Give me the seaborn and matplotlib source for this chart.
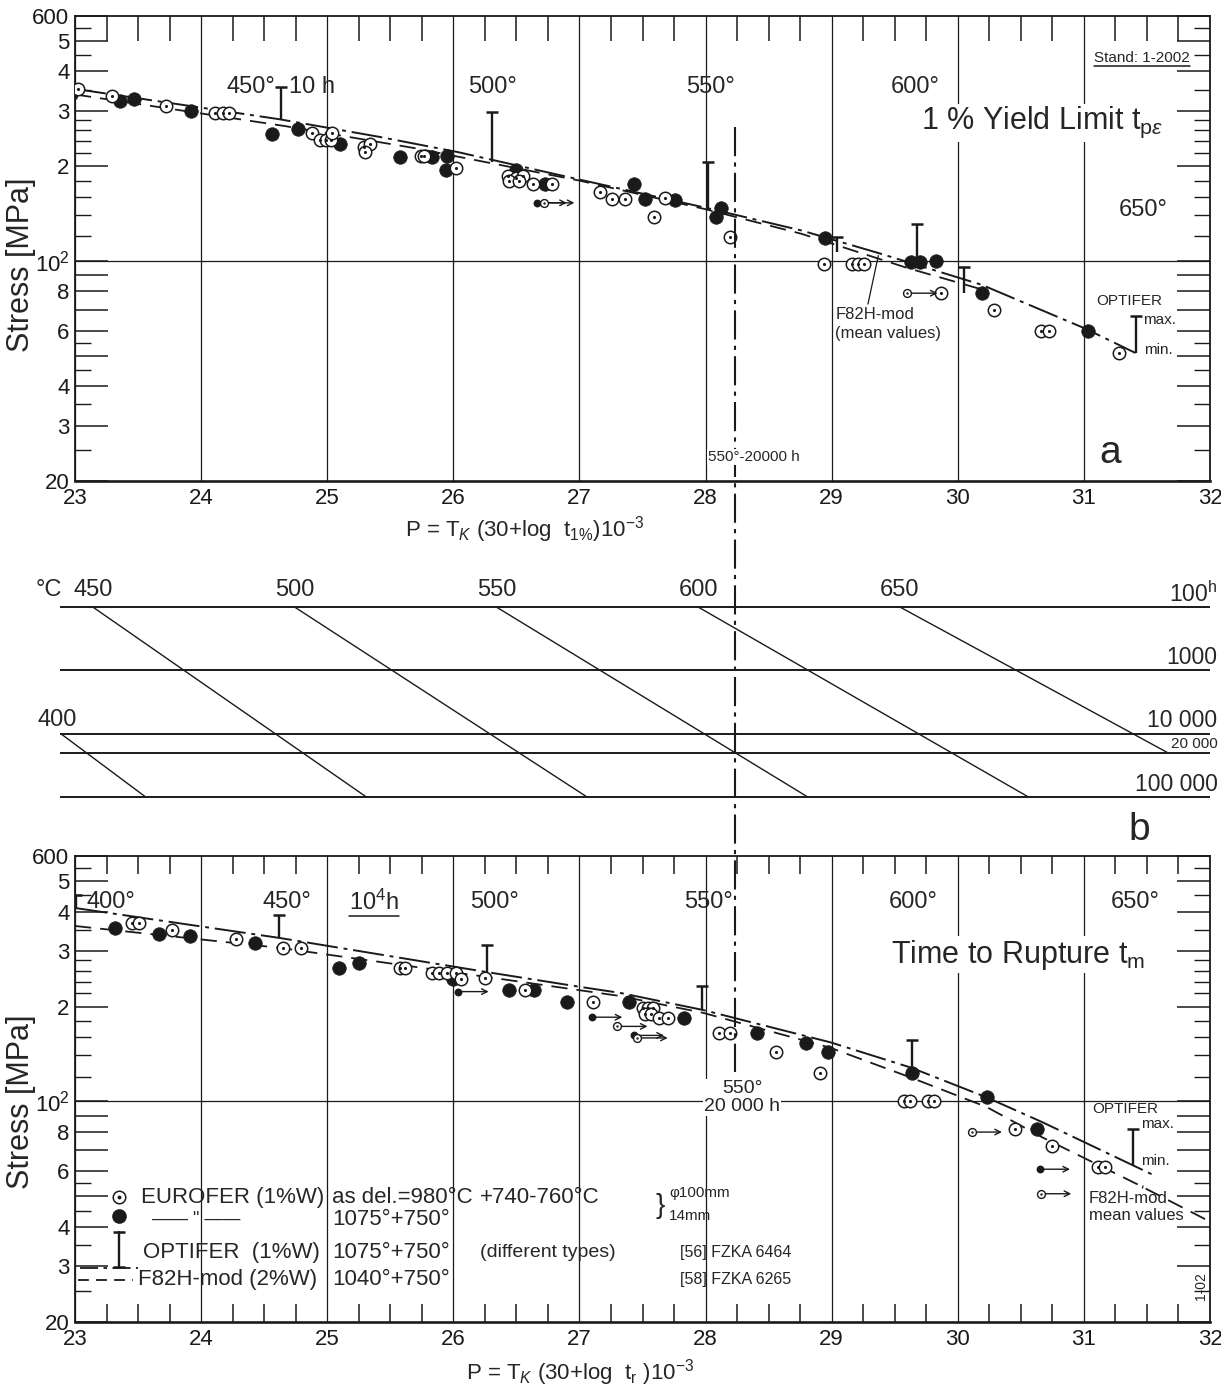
import numpy as np
import pandas as pd
import matplotlib
matplotlib.use("Agg")
import matplotlib.pyplot as plt
from matplotlib.lines import Line2D
from matplotlib.ticker import FixedLocator, NullFormatter, FixedFormatter
import seaborn as sns

# ---------------- data: panel a, 1 % yield limit ----------------
yl_open_P = [22.96, 23.02, 23.29, 23.72, 24.11, 24.17, 24.22, 24.88, 24.94, 24.99, 25.03, 25.04,
             25.29, 25.34, 25.30, 25.74, 25.77, 26.02, 26.43, 26.50, 26.55, 26.44, 26.52, 26.63,
             26.78, 27.16, 27.26, 27.36, 27.59, 27.68, 28.19, 28.94, 29.16, 29.21, 29.26, 29.87,
             30.29, 30.66, 30.72, 31.28]
yl_open_S = [357, 351, 334, 311, 295, 295, 295, 255, 242, 242, 242, 255,
             230, 235, 222, 216, 216, 197, 186, 184, 186, 180, 179, 175,
             176, 166, 157, 157, 138, 158, 119, 98, 98, 98, 98, 79,
             70, 60, 60, 51]
yl_fill_P = [22.97, 23.36, 23.47, 23.92, 24.56, 24.77, 25.10, 25.58, 25.83, 25.95, 25.94, 26.50,
             26.73, 27.43, 27.52, 27.76, 28.12, 28.08, 28.95, 29.63, 29.70, 29.83, 30.19, 31.03]
yl_fill_S = [339, 322, 326, 300, 254, 262, 235, 214, 214, 216, 195, 195,
             175, 175, 157, 156, 147, 138, 118, 99, 99, 100, 79, 60]
yl_run_P = [26.66, 26.72, 29.60]
yl_run_S = [153, 153, 79]
yl_run_filled = [True, False, False]
yl_opt_P = [24.63, 26.31, 28.02, 29.04, 29.68, 30.05, 31.41]
yl_opt_max = [357, 297, 206, 119, 131, 96, 67]
yl_opt_min = [282, 206, 145, 107, 99, 79, 51]
yl_optline_P = [23.0, 24.62, 25.41, 26.03, 27.01, 28.02, 28.76, 29.37, 30.19, 31.01, 31.41]
yl_optline_S = [352, 282, 248, 222, 181, 147, 125, 106, 84, 61, 51]
yl_f82_P = [23.0, 24.67, 25.70, 27.0, 28.0, 28.76, 29.6, 30.2]
yl_f82_S = [338, 268, 228, 180, 146, 122, 95, 81]

# ---------------- data: panel c, time to rupture ----------------
rp_open_P = [23.45, 23.51, 23.77, 24.28, 24.65, 24.79, 25.58, 25.62, 25.83, 25.89, 25.95, 26.02,
             26.06, 26.25, 26.57, 27.11, 27.50, 27.54, 27.58, 27.52, 27.57, 27.63, 27.70, 28.11,
             28.19, 28.56, 28.91, 29.57, 29.62, 29.76, 29.81, 30.45, 30.75, 31.11, 31.17]
rp_open_S = [368, 368, 350, 327, 307, 307, 264, 264, 255, 255, 255, 255,
             244, 247, 226, 206, 198, 198, 198, 190, 190, 184, 184, 165,
             165, 143, 123, 100, 100, 100, 100, 82, 72, 62, 62]
rp_fill_P = [23.32, 23.67, 23.91, 24.43, 25.09, 25.25, 26.00, 26.44, 26.64, 26.90, 27.39, 27.83,
             28.41, 28.80, 28.97, 29.64, 30.23, 30.63]
rp_fill_S = [356, 339, 335, 319, 265, 274, 244, 226, 225, 206, 206, 184,
             165, 153, 143, 123, 103, 82]
rp_run_P = [26.04, 27.10, 27.30, 27.43, 27.46, 30.11, 30.65, 30.66]
rp_run_S = [223, 185, 173, 162, 159, 80, 61, 51]
rp_run_filled = [True, True, False, True, False, False, True, False]
rp_opt_P = [23.01, 24.62, 26.27, 27.97, 29.64, 31.39]
rp_opt_max = [451, 390, 313, 232, 157, 82]
rp_opt_min = [409, 330, 258, 195, 123, 63]
rp_optline_P = [23.01, 24.62, 26.27, 27.0, 27.32, 27.98, 28.99, 29.63, 30.23, 30.67, 31.38, 31.57]
rp_optline_S = [410, 330, 257, 231, 221, 195, 154, 128, 103, 86, 63, 58]
rp_f82_P = [23.0, 24.62, 26.27, 27.32, 27.98, 28.99, 29.63, 30.23, 30.67, 31.41, 31.98]
rp_f82_S = [360, 307, 248, 216, 191, 148, 119, 96, 77, 55, 42]

# ---------------- data: panel b, Larson-Miller nomogram ----------------
nomo_T = [400, 450, 500, 550, 600, 650]
nomo_t_start = [1e4, 100, 100, 100, 100, 100]
nomo_t_end = [1e5, 1e5, 1e5, 1e5, 1e5, 2e4]
nomo_times = [100, 1000, 10000, 20000, 100000]
nomo_time_labels = ['100$^{\\mathrm{h}}$', '1000', '10 000', '20 000', '100 000']
ref_T, ref_t = 550, 20000

# ---------------- axes ticks ----------------
stress_major = [20, 30, 40, 50, 60, 70, 80, 90, 100, 200, 300, 400, 500, 600]
stress_major_labels = ['20', '3', '4', '', '6', '', '8', '', '10$^2$', '2', '3', '4', '5', '600']
stress_minor = [25, 35, 45, 55, 120, 140, 160, 180, 220, 240, 260, 280, 350, 450, 550]
P_ticks = list(range(23, 33))
P_minor = [p for p in np.arange(23.25, 32.0, 0.25) if abs(p - round(p)) > 1e-6]


def lmp(T_c, t):
    return (T_c + 273.15) * (30 + np.log10(t)) / 1000.0


sns.set_theme(style='white')
NARROW = ['Liberation Sans Narrow', 'Liberation Sans', 'DejaVu Sans']
ARIAL = ['Liberation Sans', 'DejaVu Sans']
plt.rcParams['font.family'] = NARROW
plt.rcParams['mathtext.fontset'] = 'custom'
plt.rcParams['mathtext.rm'] = 'Liberation Sans'
plt.rcParams['mathtext.it'] = 'Liberation Sans:italic'
plt.rcParams['mathtext.bf'] = 'Liberation Sans:bold'

fig = plt.figure(figsize=(12.21, 13.89), dpi=100)
fig.patch.set_facecolor('white')
L, W = 75 / 1221, 1135 / 1221
ax_a = fig.add_axes([L, 1 - 481 / 1389, W, 465 / 1389])
ax_b = fig.add_axes([L, 1 - 845 / 1389, W, 270 / 1389])
ax_c = fig.add_axes([L, 1 - 1322 / 1389, W, 466 / 1389])


def setup_stress_axes(ax, top_only):
    ax.set_yscale('log')
    ax.set_xlim(23, 32)
    ax.set_ylim(20, 600)
    ax.yaxis.set_major_locator(FixedLocator(stress_major))
    ax.yaxis.set_major_formatter(FixedFormatter(stress_major_labels))
    ax.yaxis.set_minor_locator(FixedLocator(stress_minor))
    ax.yaxis.set_minor_formatter(NullFormatter())
    ax.xaxis.set_major_locator(FixedLocator(P_ticks))
    ax.xaxis.set_minor_locator(FixedLocator(P_minor))
    ax.tick_params(axis='y', which='major', direction='in', length=24, width=1.1,
                   left=True, right=True, labelsize=16, pad=4, colors='k')
    ax.tick_params(axis='y', which='minor', direction='in', length=11.5, width=1.0,
                   left=True, right=True, colors='k')
    ax.tick_params(axis='x', which='major', length=0, labelsize=16, pad=5, colors='k')
    if top_only:
        ax.tick_params(axis='x', which='minor', direction='in', length=18, width=1.1,
                       top=True, bottom=False, colors='k')
    else:
        ax.tick_params(axis='x', which='minor', direction='in', length=13, width=1.1,
                       top=True, bottom=True, colors='k')
    ax.grid(True, axis='x', which='major', color='k', linewidth=0.9)
    ax.axhline(100, color='k', lw=0.9, zorder=1)
    for sp in ax.spines.values():
        sp.set_color('k')
        sp.set_linewidth(1.3)
    ax.spines['bottom'].set_linewidth(1.9)
    ax.set_facecolor('white')


def draw_panel(ax, fP, fS, oP, oS, rP, rS, rF, bP, bmax, bmin, oLP, oLS, fLP, fLS):
    sns.lineplot(x=oLP, y=oLS, ax=ax, color='k', lw=1.4, sort=False, estimator=None, zorder=3)
    ax.lines[-1].set_linestyle((0, (16, 3, 2, 3)))
    sns.lineplot(x=fLP, y=fLS, ax=ax, color='k', lw=1.3, sort=False, estimator=None, zorder=3)
    ax.lines[-1].set_linestyle((0, (9, 5)))
    ax.vlines(bP, bmin, bmax, color='k', lw=1.7, zorder=4)
    sns.scatterplot(x=bP, y=bmax, ax=ax, marker='_', s=70, color='k', linewidth=1.8,
                    zorder=4, legend=False)
    sns.scatterplot(x=fP, y=fS, ax=ax, s=95, color='k', edgecolor='k', linewidth=0.5,
                    zorder=5, legend=False)
    sns.scatterplot(x=oP, y=oS, ax=ax, s=80, color='white', edgecolor='k', linewidth=1.1,
                    zorder=5, legend=False)
    sns.scatterplot(x=oP, y=oS, ax=ax, s=5, color='k', linewidth=0, zorder=6, legend=False)
    for P, S in zip(rP, rS):
        ax.annotate('', xy=(P + 0.24, S), xytext=(P, S),
                    arrowprops=dict(arrowstyle='->', color='k', lw=1.0, shrinkA=0, shrinkB=0,
                                    mutation_scale=10), zorder=5)
    rfP = [p for p, f in zip(rP, rF) if f]
    rfS = [s for s, f in zip(rS, rF) if f]
    roP = [p for p, f in zip(rP, rF) if not f]
    roS = [s for s, f in zip(rS, rF) if not f]
    sns.scatterplot(x=rfP, y=rfS, ax=ax, s=32, color='k', linewidth=0, zorder=6, legend=False)
    sns.scatterplot(x=roP, y=roS, ax=ax, s=32, color='white', edgecolor='k', linewidth=1.0,
                    zorder=6, legend=False)
    sns.scatterplot(x=roP, y=roS, ax=ax, s=3, color='k', linewidth=0, zorder=7, legend=False)


# ---------------- panel a ----------------
setup_stress_axes(ax_a, top_only=True)
draw_panel(ax_a, yl_fill_P, yl_fill_S, yl_open_P, yl_open_S, yl_run_P, yl_run_S, yl_run_filled,
           yl_opt_P, yl_opt_max, yl_opt_min, yl_optline_P, yl_optline_S, yl_f82_P, yl_f82_S)
ax_a.set_xlim(23, 32)
ax_a.set_ylim(20, 600)
ax_a.set_xlabel('P = T$_{K}$ (30+log  t$_{1\\%}$)10$^{-3}$', fontsize=16)
ax_a.xaxis.set_label_coords(0.396, -0.072)
ax_a.set_ylabel('Stress [MPa]', fontsize=22, family=ARIAL)
ax_a.yaxis.set_label_coords(-0.034, 0.465)

ax_a.text(24.59, 357, '450°', ha='right', va='center', fontsize=17)
ax_a.text(24.70, 357, '10 h', ha='left', va='center', fontsize=17)
for P, lab in [(26.31, '500°'), (28.04, '550°'), (29.66, '600°')]:
    ax_a.text(P, 357, lab, ha='center', va='center', fontsize=17)
ax_a.text(31.47, 145, '650°', ha='center', va='center', fontsize=17)
ax_a.text(29.71, 262, '1 % Yield Limit t$_{\\mathrm{p}\\varepsilon}$', ha='left', va='baseline',
          fontsize=22, family=ARIAL, zorder=8,
          bbox=dict(facecolor='white', edgecolor='none', pad=1))
stand = ax_a.text(31.08, 442, 'Stand: 1-2002', ha='left', va='center', fontsize=11, zorder=8,
                  bbox=dict(facecolor='white', edgecolor='none', pad=1))
ax_a.annotate('F82H-mod\n(mean values)', xy=(29.37, 104), xytext=(29.03, 63),
              ha='left', va='center', fontsize=12, family=ARIAL, linespacing=1.3,
              arrowprops=dict(arrowstyle='-', color='k', lw=0.9, shrinkA=0, shrinkB=0,
                              relpos=(0.3, 1.0)))
ax_a.text(31.10, 74.6, 'OPTIFER', ha='left', va='center', fontsize=11)
ax_a.text(31.47, 65.0, 'max.', ha='left', va='center', fontsize=11)
ax_a.text(31.48, 52, 'min.', ha='left', va='center', fontsize=11)
ax_a.text(31.21, 24.5, 'a', ha='center', va='center', fontsize=28, family=ARIAL, zorder=8,
          bbox=dict(facecolor='white', edgecolor='none', pad=1))

# ---------------- panel b (nomogram) ----------------
ax_b.set_xlim(23, 32)
ax_b.set_ylim(5.758, 1.495)
ax_b.axis('off')
rows = []
for T, ts, te in zip(nomo_T, nomo_t_start, nomo_t_end):
    for t in (ts, te):
        rows.append(dict(T=T, logt=np.log10(t), P=lmp(T, t)))
nomo_df = pd.DataFrame(rows)
sns.lineplot(data=nomo_df, x='P', y='logt', units='T', estimator=None, color='k', lw=1.0,
             ax=ax_b, legend=False, sort=False)
for ln in ax_b.lines:
    ln.set_clip_on(False)
ax_b.hlines(np.log10(nomo_times), 22.88, 32, color='k', lw=1.4, clip_on=False)
ax_b.text(22.69, 1.73, '°C', ha='left', va='center', fontsize=17, clip_on=False)
for T, ts in zip(nomo_T, nomo_t_start):
    if ts == 100:
        ax_b.text(lmp(T, 100), 1.73, f'{T}', ha='center', va='center', fontsize=17)
    else:
        ax_b.text(lmp(T, ts) - 0.03, 3.78, f'{T}', ha='center', va='center', fontsize=17,
                  clip_on=False)
for t, lab in zip(nomo_times, nomo_time_labels):
    small = (t == 20000)
    off = 0.13 if small else 0.2
    ax_b.text(32.06, np.log10(t) - off, lab, ha='right', va='center',
              fontsize=11 if small else 16.5, clip_on=False)
ax_b.text(31.44, 5.52, 'b', ha='center', va='center', fontsize=28, family=ARIAL)

# ---------------- panel c ----------------
setup_stress_axes(ax_c, top_only=False)
draw_panel(ax_c, rp_fill_P, rp_fill_S, rp_open_P, rp_open_S, rp_run_P, rp_run_S, rp_run_filled,
           rp_opt_P, rp_opt_max, rp_opt_min, rp_optline_P, rp_optline_S, rp_f82_P, rp_f82_S)
ax_c.set_xlim(23, 32)
ax_c.set_ylim(20, 600)
ax_c.set_xlabel('P = T$_{K}$ (30+log  t$_{\\mathrm{r}}$ )10$^{-3}$', fontsize=16)
ax_c.xaxis.set_label_coords(0.445, -0.076)
ax_c.set_ylabel('Stress [MPa]', fontsize=22, family=ARIAL)
ax_c.yaxis.set_label_coords(-0.034, 0.472)

ax_c.text(23.09, 429, '400°', ha='left', va='center', fontsize=17)
ax_c.text(24.68, 429, '450°', ha='center', va='center', fontsize=17)
tenh = ax_c.text(25.37, 429, '10$^4$h', ha='center', va='center', fontsize=17)
for P, lab in [(26.33, '500°'), (28.02, '550°'), (29.65, '600°'), (31.41, '650°')]:
    ax_c.text(P, 429, lab, ha='center', va='center', fontsize=17)
ax_c.text(29.47, 275, 'Time to Rupture t$_{\\mathrm{m}}$', ha='left', va='baseline',
          fontsize=22, family=ARIAL, zorder=8,
          bbox=dict(facecolor='white', edgecolor='none', pad=1))
ax_c.text(31.07, 95, 'OPTIFER', ha='left', va='center', fontsize=11)
ax_c.text(31.45, 85, 'max.', ha='left', va='center', fontsize=11)
ax_c.text(31.45, 64.7, 'min.', ha='left', va='center', fontsize=11)
ax_c.annotate('F82H-mod\nmean values', xy=(31.47, 54), xytext=(31.04, 46.3),
              ha='left', va='center', fontsize=12, family=ARIAL, linespacing=1.1,
              arrowprops=dict(arrowstyle='-', color='k', lw=0.9, shrinkA=0, shrinkB=0,
                              relpos=(0.55, 1.0)))
ax_c.text(31.985, 23.5, '1-02', rotation=90, ha='right', va='bottom', fontsize=10)

# legend block (bottom-left)
r1, r2, r3, r4 = 49.8, 43.5, 33.1, 27.2
ax_c.plot([23.35], [r1], marker='o', ms=9, mfc='white', mec='k', mew=1.1, zorder=6)
ax_c.plot([23.35], [r1], marker='o', ms=1.8, color='k', zorder=7)
ax_c.plot([23.35], [r2], marker='o', ms=9.5, color='k', zorder=6)
ax_c.plot([23.35, 23.35], [29.9, 38.6], color='k', lw=1.7)
ax_c.plot([23.35, 23.35], [29.9, 38.6], ls='none', marker='_', ms=8, mew=1.8, color='k')
ax_c.plot([23.04, 23.50], [29.7, 29.7], color='k', lw=1.3, ls=(0, (10, 3, 2, 3)))
ax_c.plot([23.02, 23.46], [27.2, 27.2], color='k', lw=1.3, ls=(0, (6, 4)))
ax_c.text(23.52, r1, 'EUROFER (1%W)', ha='left', va='center', fontsize=16)
ax_c.text(23.96, r2 - 1.2, '—— " ——', ha='center', va='center', fontsize=13)
ax_c.text(23.54, r3, 'OPTIFER  (1%W)', ha='left', va='center', fontsize=16)
ax_c.text(23.50, r4, 'F82H-mod (2%W)', ha='left', va='center', fontsize=16)
ax_c.text(25.04, r1, 'as del.=980°C', ha='left', va='center', fontsize=16)
ax_c.text(26.21, r1, '+740-760°C', ha='left', va='center', fontsize=16)
ax_c.text(25.04, r2 - 1.2, '1075°+750°', ha='left', va='center', fontsize=16)
ax_c.text(25.04, r3, '1075°+750°', ha='left', va='center', fontsize=16)
ax_c.text(25.04, r4, '1040°+750°', ha='left', va='center', fontsize=16)
ax_c.text(26.21, r3, '(different types)', ha='left', va='center', fontsize=14, family=ARIAL)
ax_c.text(27.64, 46.5, '}', ha='center', va='center', fontsize=20)
ax_c.text(27.71, 51.2, 'φ100mm', ha='left', va='center', fontsize=11)
ax_c.text(27.71, 43.5, '14mm', ha='left', va='center', fontsize=11)
ax_c.text(27.80, r3, '[56] FZKA 6464', ha='left', va='center', fontsize=11.5)
ax_c.text(27.80, r4, '[58] FZKA 6265', ha='left', va='center', fontsize=11.5)

# ---------------- reference line 550 °C / 20 000 h through all panels ----------------
P_ref = lmp(ref_T, ref_t)
inv = fig.transFigure.inverted()
x0, y0 = inv.transform(ax_a.transData.transform((P_ref, 266)))
x1, y1 = inv.transform(ax_c.transData.transform((P_ref, 124)))
fig.add_artist(Line2D([x0, x1], [y0, y1], transform=fig.transFigure, color='k', lw=1.5,
                      ls=(0, (14, 3, 2, 3)), zorder=3))
fig.text(28.02, 23.8, '550°-20000 h', transform=ax_a.transData, ha='left', va='center',
         fontsize=11, zorder=6, bbox=dict(facecolor='white', edgecolor='none', pad=0.5))
fig.text(28.29, 103, '550°\n20 000 h', transform=ax_c.transData, ha='center', va='center',
         fontsize=14, zorder=6, linespacing=1.05,
         bbox=dict(facecolor='white', edgecolor='none', pad=0.5))

# underline two labels
fig.canvas.draw()
for txt in (stand, tenh):
    bb = txt.get_window_extent()
    pts = inv.transform([[bb.x0, bb.y0 - 1], [bb.x1, bb.y0 - 1]])
    fig.add_artist(Line2D(pts[:, 0], pts[:, 1], transform=fig.transFigure, color='k', lw=1.1))

fig.savefig('out.png', dpi=100, facecolor='white')
